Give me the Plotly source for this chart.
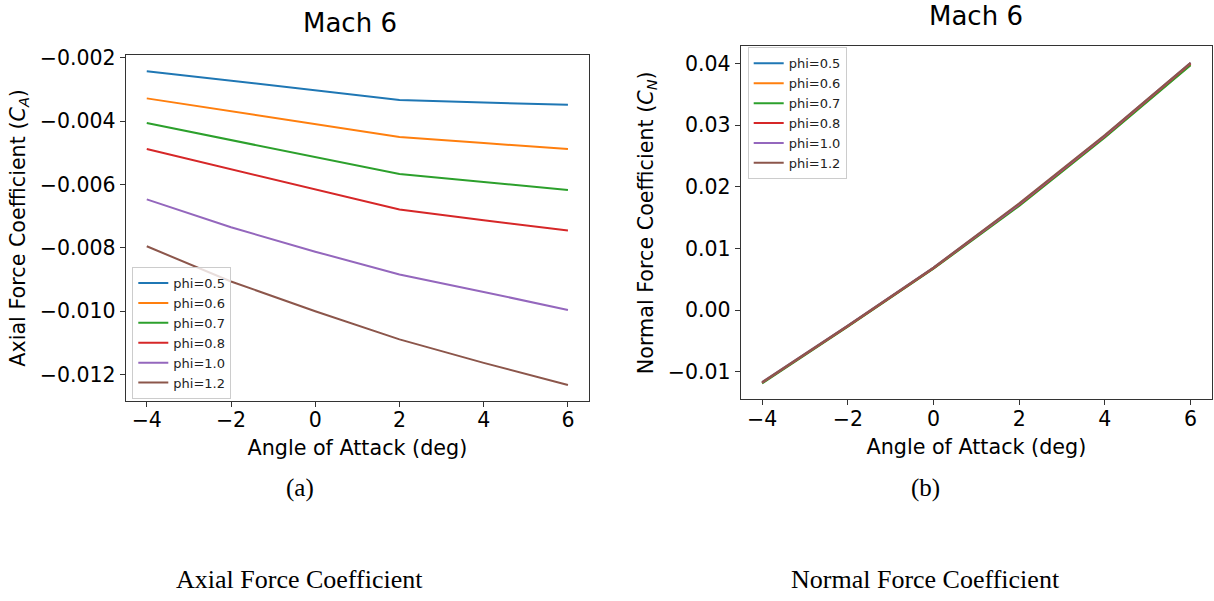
import plotly.graph_objects as go

W, H = 1214, 601

aoa = [-4, -2, 0, 2, 4, 6]
phi_labels = ["phi=0.5", "phi=0.6", "phi=0.7", "phi=0.8", "phi=1.0", "phi=1.2"]
colors = ["#1f77b4", "#ff7f0e", "#2ca02c", "#d62728", "#9467bd", "#8c564b"]

# Axial force coefficient (C_A)
ca_05 = [-0.00242, -0.00272, -0.00301, -0.00333, -0.00341, -0.00348]
ca_06 = [-0.00328, -0.00369, -0.00410, -0.00450, -0.00469, -0.00488]
ca_07 = [-0.00406, -0.00460, -0.00514, -0.00567, -0.00592, -0.00617]
ca_08 = [-0.00488, -0.00552, -0.00615, -0.00679, -0.00713, -0.00745]
ca_10 = [-0.00647, -0.00735, -0.00812, -0.00884, -0.00939, -0.00996]
ca_12 = [-0.00795, -0.00906, -0.01000, -0.01089, -0.01163, -0.01233]

# Normal force coefficient (C_N)
cn_05 = [-0.0118, -0.0026, 0.0068, 0.0171, 0.0282, 0.0399]
cn_06 = [-0.0118, -0.0026, 0.0068, 0.0170, 0.0281, 0.0398]
cn_07 = [-0.0119, -0.0027, 0.0067, 0.0169, 0.0280, 0.0397]
cn_08 = [-0.0118, -0.0026, 0.0068, 0.0171, 0.0282, 0.0400]
cn_10 = [-0.0117, -0.0025, 0.0069, 0.0172, 0.0283, 0.0401]
cn_12 = [-0.0117, -0.0025, 0.0069, 0.0173, 0.0284, 0.0401]

ca_series = [ca_05, ca_06, ca_07, ca_08, ca_10, ca_12]
cn_series = [cn_05, cn_06, cn_07, cn_08, cn_10, cn_12]

fig = go.Figure()
for name, col, ys in zip(phi_labels, colors, ca_series):
    fig.add_trace(go.Scatter(x=aoa, y=ys, mode="lines", name=name,
                             line=dict(color=col, width=2),
                             xaxis="x", yaxis="y", legend="legend"))
for name, col, ys in zip(phi_labels, colors, cn_series):
    fig.add_trace(go.Scatter(x=aoa, y=ys, mode="lines", name=name,
                             line=dict(color=col, width=2),
                             xaxis="x2", yaxis="y2", legend="legend2"))

def px_x(p):
    return p / W

def px_y(p):
    return (H - p) / H

axis_common = dict(showline=True, linecolor="#333333", linewidth=1, mirror=True,
                   ticks="outside", ticklen=5, tickcolor="#333333", tickwidth=1,
                   showgrid=False, zeroline=False,
                   tickfont=dict(family="DejaVu Sans", size=20.5, color="#000000"))

TITLE_FONT = dict(family="DejaVu Sans", size=20.7)
LEGEND_FONT = dict(family="DejaVu Sans", size=13, color="#222222")

fig.update_layout(
    width=W, height=H,
    margin=dict(l=0, r=0, t=0, b=0),
    paper_bgcolor="white", plot_bgcolor="white",
    font=dict(family="DejaVu Sans", color="#000000"),
    xaxis=dict(domain=[px_x(125.7), px_x(589)], anchor="y",
               range=[-4.5, 6.5], tickmode="array", tickvals=[-4, -2, 0, 2, 4, 6],
               ticklabelstandoff=-4,
               title=dict(text="Angle of Attack (deg)", standoff=9, font=TITLE_FONT),
               **axis_common),
    yaxis=dict(domain=[px_y(397.5), px_y(47)], anchor="x",
               range=[-0.01282, -0.00192], tickmode="array",
               tickvals=[-0.012, -0.010, -0.008, -0.006, -0.004, -0.002],
               tickformat=".3f",
               title=dict(text="Axial Force Coefficient (<i>C<sub>A</sub></i>)", standoff=8,
                          font=TITLE_FONT),
               **axis_common),
    xaxis2=dict(domain=[px_x(740.7), px_x(1212)], anchor="y2",
                range=[-4.5, 6.5], tickmode="array", tickvals=[-4, -2, 0, 2, 4, 6],
                ticklabelstandoff=-4,
                title=dict(text="Angle of Attack (deg)", standoff=9, font=TITLE_FONT),
                **axis_common),
    yaxis2=dict(domain=[px_y(396), px_y(38)], anchor="x2",
                range=[-0.01444, 0.04276], tickmode="array",
                tickvals=[-0.01, 0.0, 0.01, 0.02, 0.03, 0.04],
                tickformat=".2f",
                title=dict(text="Normal Force Coefficient (<i>C<sub>N</sub></i>)", standoff=8,
                           font=TITLE_FONT),
                **axis_common),
    legend=dict(x=px_x(132.3), y=px_y(262), xanchor="left", yanchor="top",
                bgcolor="rgba(255,255,255,0.8)", bordercolor="#cccccc", borderwidth=1,
                font=LEGEND_FONT, itemwidth=30, tracegroupgap=0),
    legend2=dict(x=px_x(747.7), y=px_y(39), xanchor="left", yanchor="top",
                 bgcolor="rgba(255,255,255,0.8)", bordercolor="#cccccc", borderwidth=1,
                 font=LEGEND_FONT, itemwidth=30, tracegroupgap=0),
    showlegend=True,
)

annotations = [
    dict(text="Mach 6", x=px_x(350), y=px_y(14), font=dict(family="DejaVu Sans", size=26)),
    dict(text="Mach 6", x=px_x(976), y=px_y(7), font=dict(family="DejaVu Sans", size=26)),
    dict(text="(a)", x=px_x(300), y=px_y(486), font=dict(family="Liberation Serif", size=25)),
    dict(text="(b)", x=px_x(925), y=px_y(486), font=dict(family="Liberation Serif", size=25)),
    dict(text="Axial Force Coefficient", x=px_x(299), y=px_y(579),
         font=dict(family="Liberation Serif", size=26)),
    dict(text="Normal Force Coefficient", x=px_x(925), y=px_y(579),
         font=dict(family="Liberation Serif", size=26)),
]
for a in annotations:
    a.update(xref="paper", yref="paper", showarrow=False, xanchor="center", yanchor="middle")
fig.update_layout(annotations=annotations)

fig.write_html("out.html",
               config={"displayModeBar": False},
               post_script="document.body.style.margin='0';document.body.style.overflow='hidden';")
